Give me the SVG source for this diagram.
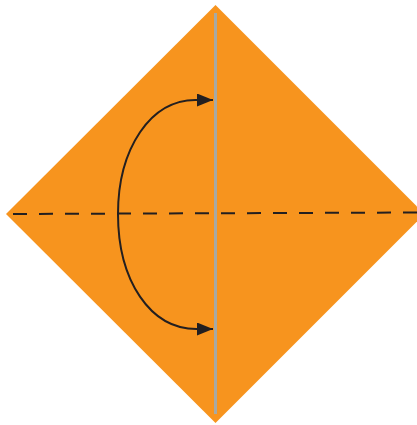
<svg xmlns="http://www.w3.org/2000/svg" width="417" height="425" viewBox="0 0 417 425">
  <style>
    .paper { fill: #f7941e; }
    .crease { stroke: #a7a9a3; stroke-width: 3; fill: none; }
    .fold { stroke: #231f20; stroke-width: 2; stroke-dasharray: 14 12; fill: none; }
    .arrow { stroke: #231f20; stroke-width: 2; fill: none; }
  </style>
  <defs>
    <marker id="head" viewBox="0 0 16 13" refX="16" refY="6.5" markerWidth="16" markerHeight="13" markerUnits="userSpaceOnUse" orient="auto-start-reverse">
      <path d="M0,0 L16,6.5 L0,13 Z" fill="#231f20"/>
    </marker>
  </defs>
  <g id="paper">
    <polygon class="paper" points="215.5,5 424.5,214 215.5,423 6,214"/>
  </g>
  <g id="crease">
    <line class="crease" x1="215.5" y1="13" x2="215.5" y2="414"/>
  </g>
  <g id="fold-line">
    <line class="fold" x1="13" y1="214" x2="417" y2="212.5"/>
  </g>
  <g id="connectors">
    <path class="arrow" d="M213,100 L198,100 C150,98 118,150 118,214 C118,280 150,330 198,329 L213,329" marker-start="url(#head)" marker-end="url(#head)"/>
  </g>
</svg>
